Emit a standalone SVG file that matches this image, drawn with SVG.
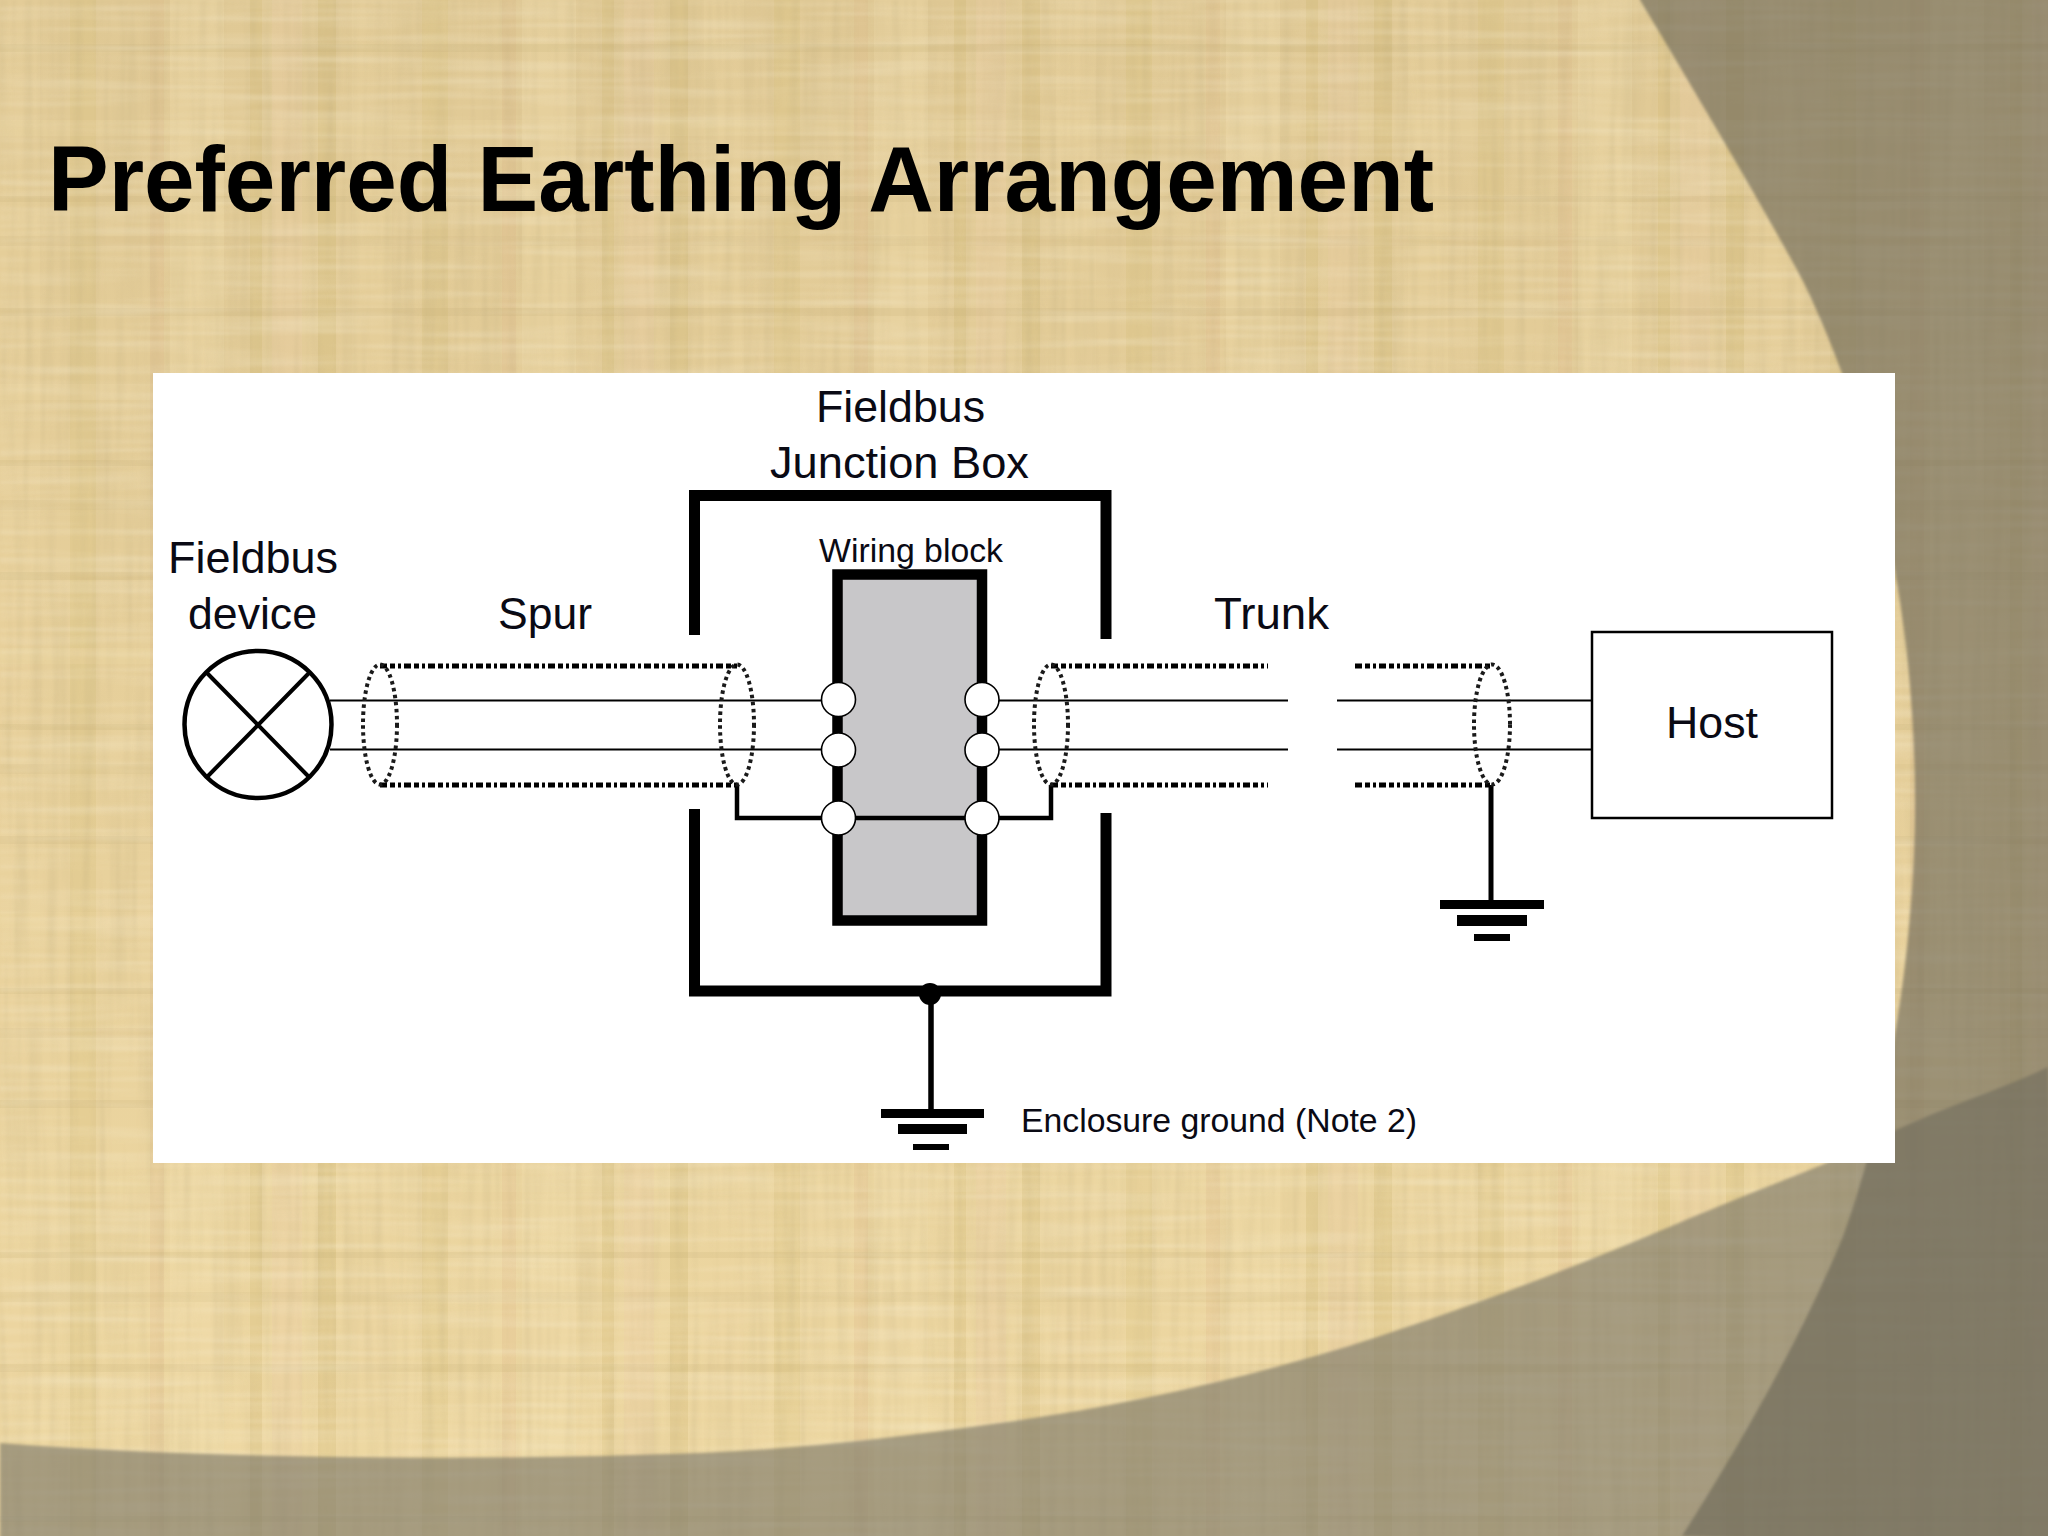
<svg xmlns="http://www.w3.org/2000/svg" width="2048" height="1536" viewBox="0 0 2048 1536">
<defs>
<style>
.lbl{font-family:"Liberation Sans",Arial,sans-serif;fill:#0a0a14;}
.big{font-size:44px;}
.small{font-size:34px;}
.title{font-family:"Liberation Sans",Arial,sans-serif;font-weight:bold;font-size:92px;fill:#000;}
.wire{stroke:#000;stroke-width:2;fill:none;}
.shield{stroke:#000;stroke-width:5;fill:none;stroke-dasharray:7 3 5 3 3 3;}
.gland{stroke:#1a1a1a;stroke-width:4;fill:none;stroke-dasharray:3.500 3.500;}
.drain{stroke:#000;stroke-width:4.500;fill:none;}
.encl{stroke:#000;stroke-width:11;fill:none;}
.term{fill:#fff;stroke:#000;stroke-width:1.600;}
</style>
<linearGradient id="paperGrad" x1="0" y1="0" x2="0" y2="1">
<stop offset="0" stop-color="#e0c995"/><stop offset="0.5" stop-color="#e7d09b"/><stop offset="1" stop-color="#eed8a2"/>
</linearGradient>
<pattern id="tile" width="352" height="264" patternUnits="userSpaceOnUse">
<rect x="0" y="0" width="40" height="264" fill="#ecd4a0" opacity=".3"/>
<rect x="70" y="0" width="26" height="264" fill="#cfba72" opacity=".22"/>
<rect x="150" y="0" width="14" height="264" fill="#d6b084" opacity=".2"/>
<rect x="170" y="0" width="54" height="264" fill="#f2dfae" opacity=".3"/>
<rect x="250" y="0" width="12" height="264" fill="#ccb46c" opacity=".25"/>
<rect x="272" y="0" width="30" height="264" fill="#edcfa8" opacity=".3"/>
<rect x="318" y="0" width="18" height="264" fill="#c6ae66" opacity=".25"/>
<rect x="0" y="44" width="352" height="8" fill="#b9a36c" opacity=".14"/>
<rect x="0" y="120" width="352" height="16" fill="#f2e0b0" opacity=".16"/>
<rect x="0" y="196" width="352" height="6" fill="#b9a36c" opacity=".14"/>
<rect x="0" y="236" width="352" height="10" fill="#c4ae78" opacity=".12"/>
</pattern>
<filter id="threadsV" x="0" y="0" width="1" height="1">
<feTurbulence type="fractalNoise" baseFrequency="0.12 0.005" numOctaves="3" seed="4"/>
<feColorMatrix type="matrix" values="0 0 0 0 0.5  0 0 0 0 0.4  0 0 0 0 0.2  1.6 0 0 0 -0.62"/>
<feGaussianBlur stdDeviation="1"/>
</filter>
<filter id="threadsH" x="0" y="0" width="1" height="1">
<feTurbulence type="fractalNoise" baseFrequency="0.005 0.14" numOctaves="3" seed="9"/>
<feColorMatrix type="matrix" values="0 0 0 0 0.98  0 0 0 0 0.92  0 0 0 0 0.74  1.6 0 0 0 -0.66"/>
<feGaussianBlur stdDeviation="1"/>
</filter>
<filter id="soft" x="-5%" y="-5%" width="110%" height="110%"><feGaussianBlur stdDeviation="1.500"/></filter>
</defs>

<g id="background">
<rect width="2048" height="1536" fill="url(#paperGrad)"/>
<rect width="2048" height="1536" fill="url(#tile)"/>
<rect width="2048" height="1536" filter="url(#threadsV)" opacity=".3"/>
<rect width="2048" height="1536" filter="url(#threadsH)" opacity=".35"/>
<path id="lower-band" filter="url(#soft)" fill="#7a7668" fill-opacity=".62" d="M0,1443 C200,1458 450,1462 700,1453 C800,1449 900,1437 1000,1423 C1130,1405 1260,1375 1374,1338 C1490,1300 1600,1257 1688,1219 C1780,1180 1830,1165 1896,1130 C1950,1105 2000,1090 2048,1067 L2060,1550 L0,1550 Z"/>
<path id="right-arc" filter="url(#soft)" fill="#6b6655" fill-opacity=".62" d="M1640,0 C1700,100 1769,217 1804,283 C1870,420 1915,600 1915,800 C1915,1000 1870,1164 1842,1239 C1800,1340 1740,1445 1682,1536 L2060,1550 L2060,-10 L1640,-10 Z"/>
</g>

<text id="title" class="title" x="48" y="211" textLength="1386" lengthAdjust="spacingAndGlyphs">Preferred Earthing Arrangement</text>

<rect id="panel" x="153" y="373" width="1742" height="790" fill="#fff"/>

<g id="connectors">
<path class="wire" d="M330,700.500H838M330,749.500H838"/>
<path class="wire" d="M982,700.500H1288M982,749.500H1288"/>
<path class="wire" d="M1337,700.500H1592M1337,749.500H1592"/>
<path class="shield" d="M380,666H737M380,785H737"/>
<path class="shield" d="M1051,666H1268M1051,785H1268"/>
<path class="shield" d="M1355,666H1491M1355,785H1491"/>
<path class="drain" d="M737,785V818H838"/>
<path class="drain" d="M1051,785V818H982"/>
<path class="drain" style="stroke-width:5" d="M1491,785V902"/>
<path class="drain" style="stroke-width:5.500" d="M931,994V1110"/>
</g>

<g id="junction-box">
<path class="encl" d="M694.500,635V495.500H1106V639"/>
<path class="encl" d="M694.500,809V991H1106V813"/>
<circle cx="930" cy="994" r="11" fill="#000"/>
</g>

<g id="wiring-block">
<rect x="837.500" y="574.500" width="144.500" height="346" fill="#c8c7c9" stroke="#000" stroke-width="10.500"/>
<path class="drain" d="M838,818H982"/>
<circle class="term" cx="838.500" cy="699.500" r="17"/>
<circle class="term" cx="838.500" cy="750" r="17"/>
<circle class="term" cx="838.500" cy="818" r="17"/>
<circle class="term" cx="982" cy="699.500" r="17"/>
<circle class="term" cx="982" cy="750" r="17"/>
<circle class="term" cx="982" cy="818" r="17"/>
</g>

<g id="shield-glands">
<ellipse class="gland" cx="380" cy="724.500" rx="17" ry="60"/>
<ellipse class="gland" cx="737" cy="724.500" rx="17" ry="60"/>
<ellipse class="gland" cx="1051" cy="724.500" rx="17" ry="60"/>
<ellipse class="gland" cx="1492" cy="724.500" rx="18" ry="60"/>
</g>

<g id="fieldbus-device">
<circle cx="258" cy="724.500" r="73.500" fill="#fff" stroke="#000" stroke-width="4.500"/>
<path d="M207,673L309,777M309,673L207,777" stroke="#000" stroke-width="4" fill="none"/>
</g>

<g id="host">
<rect x="1592" y="632" width="240" height="186" fill="#fff" stroke="#000" stroke-width="2.500"/>
<text class="lbl big" x="1666" y="738" textLength="92" lengthAdjust="spacingAndGlyphs">Host</text>
</g>

<g id="ground-trunk">
<rect x="1440" y="900" width="104" height="9"/>
<rect x="1457" y="915" width="70" height="11"/>
<rect x="1474" y="934" width="36" height="7"/>
</g>
<g id="ground-enclosure">
<rect x="881" y="1109" width="103" height="9"/>
<rect x="898" y="1124" width="69" height="10"/>
<rect x="913" y="1144" width="36" height="6"/>
</g>

<g id="labels">
<text class="lbl big" x="816" y="422" textLength="169" lengthAdjust="spacingAndGlyphs">Fieldbus</text>
<text class="lbl big" x="770" y="478" textLength="259" lengthAdjust="spacingAndGlyphs">Junction Box</text>
<text class="lbl small" x="819" y="562" textLength="184" lengthAdjust="spacingAndGlyphs">Wiring block</text>
<text class="lbl big" x="168" y="573" textLength="170" lengthAdjust="spacingAndGlyphs">Fieldbus</text>
<text class="lbl big" x="188" y="629" textLength="129" lengthAdjust="spacingAndGlyphs">device</text>
<text class="lbl big" x="498" y="629" textLength="94" lengthAdjust="spacingAndGlyphs">Spur</text>
<text class="lbl big" x="1214" y="629" textLength="115" lengthAdjust="spacingAndGlyphs">Trunk</text>
<text class="lbl small" x="1021" y="1132" textLength="396" lengthAdjust="spacingAndGlyphs">Enclosure ground (Note 2)</text>
</g>
</svg>
